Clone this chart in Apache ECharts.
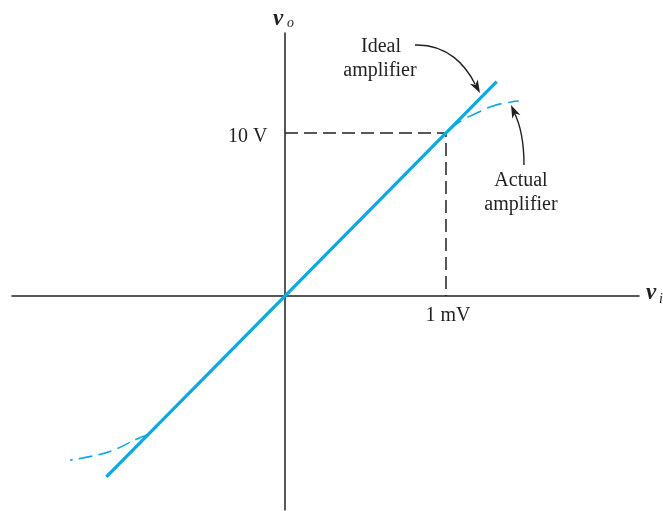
<!DOCTYPE html>
<html><head><meta charset="utf-8">
<script src="https://cdn.jsdelivr.net/npm/echarts@6/dist/echarts.min.js"></script>
<style>html,body{margin:0;padding:0;background:#fff}#c{width:663px;height:511px}</style>
</head><body><div id="c"></div>
<script>
// axis ranges (mV, V)
const xRange = [-1.696, 2.199];
const yRange = [-13.13, 16.13];
// ideal amplifier transfer line
const idealLine = [[-1.11, -11.1], [1.315, 13.15]];
// actual amplifier (saturating) curves
const actualUpper = [[1.02, 10.2], [1.104, 10.8], [1.199, 11.25], [1.286, 11.64], [1.404, 11.9], [1.453, 11.96]];
const actualLower = [[-0.85, -8.5], [-0.932, -8.83], [-1.056, -9.42], [-1.18, -9.79], [-1.335, -10.06]];
// guide lines
const guidePts = [[0, 10], [1, 10], [1, 0]];
const tickPts = [[0, 10], [1, 0]];
const tickLabels = ['10 V', '1 mV'];
const tickPos = ['left', 'bottom'];

const INK = '#231f20';
const CYAN = '#0aa9e3';
const SERIF = '"Liberation Serif", "DejaVu Serif", serif';

const chart = echarts.init(document.getElementById('c'), null, {renderer: 'canvas'});

function arrowHead(tip, dir, len, half) {
  const n = Math.hypot(dir[0], dir[1]);
  const ux = dir[0] / n, uy = dir[1] / n;
  const px = -uy, py = ux;
  const bx = tip[0] - ux * len, by = tip[1] - uy * len;
  const nx = tip[0] - ux * len * 0.72, ny = tip[1] - uy * len * 0.72;
  return {
    type: 'polygon',
    shape: {points: [tip, [bx + px * half, by + py * half], [nx, ny], [bx - px * half, by - py * half]]},
    style: {fill: INK}
  };
}

const option = {
  animation: false,
  backgroundColor: '#fff',
  grid: {left: 12, right: 24, top: 33, bottom: 1, containLabel: false},
  xAxis: {
    type: 'value', min: xRange[0], max: xRange[1],
    axisLine: {show: true, onZero: true, lineStyle: {color: INK, width: 1.5}},
    axisTick: {show: false}, axisLabel: {show: false}, splitLine: {show: false}
  },
  yAxis: {
    type: 'value', min: yRange[0], max: yRange[1],
    axisLine: {show: true, onZero: true, lineStyle: {color: INK, width: 1.5}},
    axisTick: {show: false}, axisLabel: {show: false}, splitLine: {show: false}
  },
  series: [
    {
      type: 'line', data: guidePts, symbol: 'none',
      lineStyle: {color: INK, width: 1.5, type: [13, 6]}
    },
    {
      type: 'line', data: actualUpper, symbol: 'none', smooth: true,
      lineStyle: {color: CYAN, width: 1.6, type: [15, 7]}
    },
    {
      type: 'line', data: actualLower, symbol: 'none', smooth: true,
      lineStyle: {color: CYAN, width: 1.6, type: [14, 6]}
    },
    {
      type: 'line', data: idealLine, symbol: 'none',
      lineStyle: {color: CYAN, width: 3.2}
    },
    {
      type: 'scatter', symbolSize: 1, itemStyle: {color: 'rgba(0,0,0,0)', opacity: 1},
      data: tickPts.map((p, i) => ({
        value: p,
        label: {
          show: true, formatter: tickLabels[i], position: tickPos[i],
          distance: tickPos[i] === 'left' ? 17 : 9,
          offset: tickPos[i] === 'left' ? [0, 4] : [2, 0],
          color: INK, opacity: 1, fontFamily: SERIF, fontSize: 20
        }
      }))
    }
  ],
  graphic: [
    // axis names
    {type: 'text', x: 273, y: 19, style: {text: 'v', font: 'italic bold 23px ' + SERIF, fill: INK, verticalAlign: 'middle'}},
    {type: 'text', x: 287, y: 23, style: {text: 'o', font: 'italic 14px ' + SERIF, fill: INK, verticalAlign: 'middle'}},
    {type: 'text', x: 646, y: 293, style: {text: 'v', font: 'italic bold 23px ' + SERIF, fill: INK, verticalAlign: 'middle'}},
    {type: 'text', x: 659, y: 299, style: {text: 'i', font: 'italic 14px ' + SERIF, fill: INK, verticalAlign: 'middle'}},
    // annotations
    {type: 'text', x: 381, y: 47, style: {text: 'Ideal', font: '20px ' + SERIF, fill: INK, align: 'center', verticalAlign: 'middle'}},
    {type: 'text', x: 380, y: 71, style: {text: 'amplifier', font: '20px ' + SERIF, fill: INK, align: 'center', verticalAlign: 'middle'}},
    {type: 'text', x: 521, y: 181, style: {text: 'Actual', font: '20px ' + SERIF, fill: INK, align: 'center', verticalAlign: 'middle'}},
    {type: 'text', x: 521, y: 205, style: {text: 'amplifier', font: '20px ' + SERIF, fill: INK, align: 'center', verticalAlign: 'middle'}},
    {type: 'bezierCurve', shape: {x1: 415, y1: 45, cpx1: 448, cpy1: 44, cpx2: 466, cpy2: 66, x2: 475, y2: 84},
      style: {stroke: INK, lineWidth: 1.4, fill: null}},
    arrowHead([480, 93], [6, 11], 13, 4.5),
    {type: 'bezierCurve', shape: {x1: 524, y1: 165, cpx1: 524, cpy1: 140, cpx2: 520, cpy2: 124, x2: 514, y2: 112},
      style: {stroke: INK, lineWidth: 1.4, fill: null}},
    arrowHead([511, 105], [-5, -11], 13, 4.5)
  ]
};
chart.setOption(option);
</script>
</body></html>
